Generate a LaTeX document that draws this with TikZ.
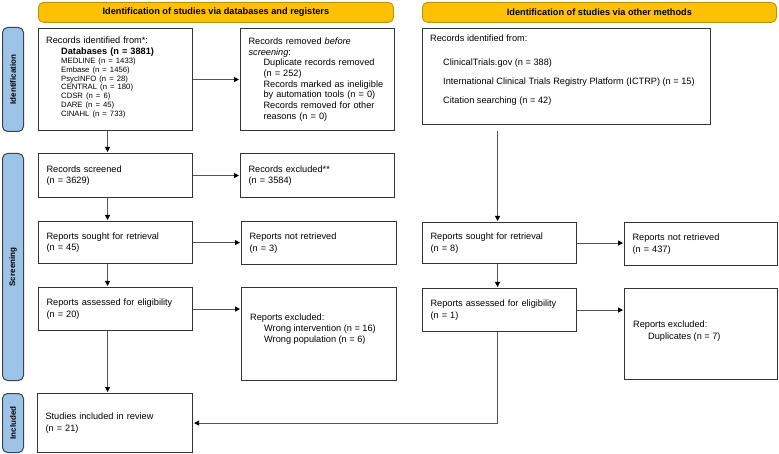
\documentclass[tikz,border=0pt]{standalone}
\usepackage{fontspec}
\setmainfont{Liberation Sans}
\usetikzlibrary{arrows.meta}
\definecolor{gold}{HTML}{FFC000}
\definecolor{goldline}{HTML}{BF9000}
\definecolor{sideblue}{HTML}{9DC3E6}
\definecolor{sideline}{HTML}{3A4350}
\definecolor{boxline}{HTML}{333333}
\definecolor{arrline}{HTML}{555555}
\newcommand\fN{\fontsize{9.2}{11.8}\selectfont}
\newcommand\fS{\fontsize{7.7}{8.9}\selectfont}
\newcommand\fBan{\fontsize{9.2}{11}\selectfont\bfseries}
\newcommand\fSide{\fontsize{8}{10}\selectfont\bfseries}
\newcommand\ind{\hspace*{15pt}}
\begin{document}
\begin{tikzpicture}[x=1pt,y=-1pt,
  box/.style={draw=boxline,line width=1.1pt,fill=white,anchor=north west,inner sep=0pt,align=left,font=\fN},
  banner/.style={draw=goldline,line width=0.8pt,fill=gold,rounded corners=5pt,anchor=north west,inner sep=0pt,font=\fBan},
  side/.style={draw=sideline,line width=1pt,fill=sideblue,rounded corners=5pt,anchor=north west,inner sep=0pt},
  sidelabel/.style={rotate=90,font=\fSide,inner sep=0pt},
  txt/.style={anchor=north west,inner sep=0pt,align=left,font=\fN},
  arr/.style={draw=arrline,line width=0.8pt,-{Triangle[length=5pt,width=5pt,color=black]},shorten >=1pt}]
\useasboundingbox (0,0) rectangle (779,454);
% banners
\node[banner,minimum width=355pt,minimum height=20pt] (ban1) at (38,2) {Identification of studies via databases and registers};
\node[banner,minimum width=354pt,minimum height=20pt] (ban2) at (422,2) {Identification of studies via other methods};
% side bars
\node[side,minimum width=21pt,minimum height=104pt] (s1) at (2,27) {};
\node[side,minimum width=21pt,minimum height=227pt] (s2) at (2,153) {};
\node[side,minimum width=21pt,minimum height=59pt] (s3) at (2,393) {};
\node[sidelabel] (l1) at (s1.center) {Identification};
\node[sidelabel] (l2) at (s2.center) {Screening};
\node[sidelabel] (l3) at (s3.center) {Included};
% left column
\node[box,minimum width=154pt,minimum height=102pt] (id1) at (38,28) {};
\node[txt,text width=140pt] (id1t) at (46,36.5) {{\fontsize{9.2}{11}\selectfont Records identified from*:\\ \ind\textbf{Databases (n = 3881)}\par}{\fS \ind MEDLINE (n = 1433)\\ \ind Embase (n = 1456)\\ \ind PsycINFO (n = 28)\\ \ind CENTRAL (n = 180)\\ \ind CDSR (n = 6)\\ \ind DARE (n = 45)\\ \ind CINAHL (n = 733)\par}};
\node[box,minimum width=154pt,minimum height=102pt,text width=138pt,font={\fontsize{9.2}{10.7}\selectfont}] (rem) at (240,28) {Records removed \textit{before}\\ \textit{screening}:\\ \ind Duplicate records removed\\ \ind (n = 252)\\ \ind Records marked as ineligible\\ \ind by automation tools (n = 0)\\ \ind Records removed for other\\ \ind reasons (n = 0)};
\node[box,minimum width=154pt,minimum height=44pt,text width=138pt] (scr) at (38,153) {Records screened\\ (n = 3629)};
\node[box,minimum width=154pt,minimum height=44pt,text width=138pt] (exc) at (240,153) {Records excluded**\\ (n = 3584)};
\node[box,minimum width=154pt,minimum height=42pt,text width=138pt] (sought) at (38,221) {Reports sought for retrieval\\ (n = 45)};
\node[box,minimum width=155pt,minimum height=43pt,text width=139pt] (notret) at (241,221) {Reports not retrieved\\ (n = 3)};
\node[box,minimum width=154pt,minimum height=43pt,text width=138pt] (assess) at (38,287) {Reports assessed for eligibility\\ (n = 20)};
\node[box,minimum width=155pt,minimum height=93pt] (rexc) at (241,287) {};
\node[txt,font={\fontsize{9.2}{11}\selectfont}] (rexct) at (250,314) {Reports excluded:\\ \hspace*{14pt}Wrong intervention (n = 16)\\ \hspace*{14pt}Wrong population (n = 6)};
\node[box,minimum width=155pt,minimum height=59pt,text width=139pt] (incl) at (37,393) {Studies included in review\\ (n = 21)};
% right column
\node[box,minimum width=288pt,minimum height=96pt] (oid) at (422,28) {};
\node[txt,font={\fontsize{9.2}{18.7}\selectfont}] (oidt) at (430,35) {Records identified from:\\[5.3pt] \hspace*{13pt}ClinicalTrials.gov (n = 388)\\ \hspace*{13pt}International Clinical Trials Registry Platform (ICTRP) (n = 15)\\ \hspace*{13pt}Citation searching (n = 42)};
\node[box,minimum width=154pt,minimum height=41pt,text width=138pt] (osought) at (422,222) {Reports sought for retrieval\\ (n = 8)};
\node[box,minimum width=153pt,minimum height=43pt,text width=137pt] (onotret) at (624,222) {Reports not retrieved\\ (n = 437)};
\node[box,minimum width=154pt,minimum height=43pt,text width=138pt] (oassess) at (422,288) {Reports assessed for eligibility\\ (n = 1)};
\node[box,minimum width=153pt,minimum height=91pt] (oexc) at (624,288) {};
\node[txt,font={\fontsize{9.2}{11.5}\selectfont}] (oexct) at (633,321) {Reports excluded:\\ \hspace*{15pt}Duplicates (n = 7)};
% connectors left
\draw[arr] (id1.east) -- (rem.west);
\draw[arr] ([xshift=-8pt]id1.south) -- ([xshift=-8pt]id1.south |- scr.north);
\draw[arr] (scr.east) -- (exc.west);
\draw[arr] ([xshift=-8pt]scr.south) -- ([xshift=-8pt]scr.south |- sought.north);
\draw[arr] (sought.east) -- (sought.east -| notret.west);
\draw[arr] ([xshift=-8pt]sought.south) -- ([xshift=-8pt]sought.south |- assess.north);
\draw[arr] (assess.east) -- (assess.east -| rexc.west);
\draw[arr] ([xshift=-8pt]assess.south) -- ([xshift=-8pt]assess.south |- incl.north);
% connectors right
\draw[arr,shorten <=6pt] ([xshift=-2pt]osought.north |- oid.south) -- ([xshift=-2pt]osought.north);
\draw[arr] (osought.east) -- (osought.east -| onotret.west);
\draw[arr] ([xshift=-2pt]osought.south) -- ([xshift=-2pt]oassess.north);
\draw[arr] (oassess.east) -- (oassess.east -| oexc.west);
\draw[arr] ([xshift=-2pt]oassess.south) |- (incl.east);
\end{tikzpicture}
\end{document}
